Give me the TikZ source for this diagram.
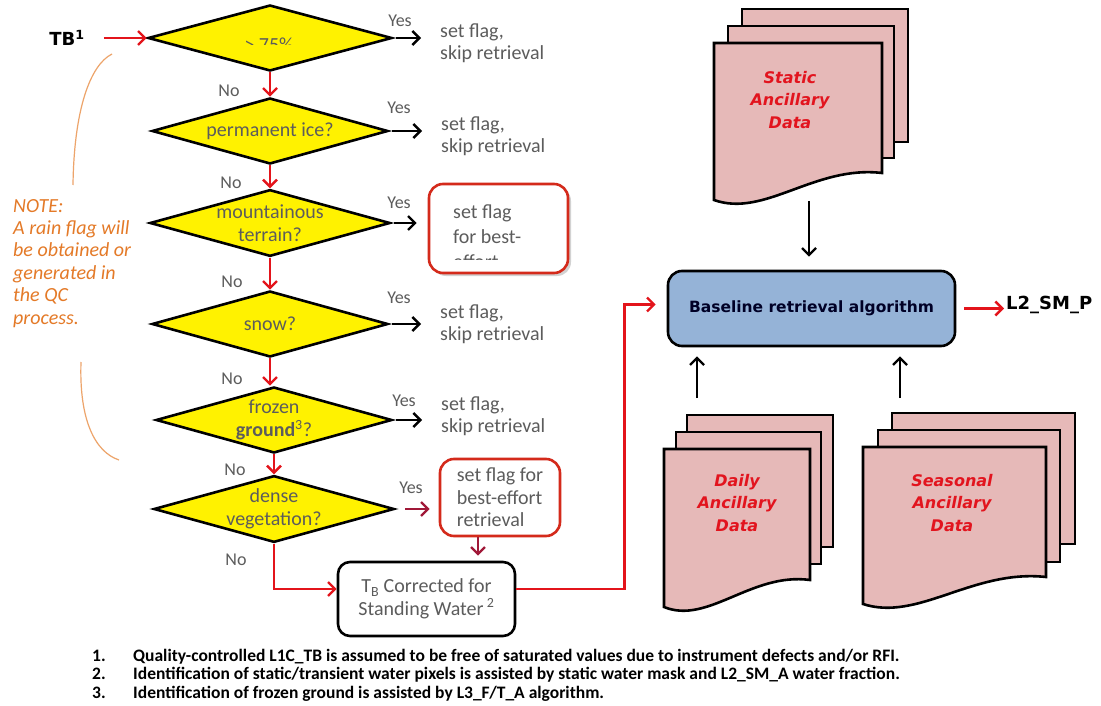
\documentclass[tikz,border=0pt]{standalone}
\usepackage{fontspec}
\setmainfont{Carlito}
\newfontfamily\headfont{DejaVu Sans}
\usetikzlibrary{shapes.geometric}
\usetikzlibrary{arrows.meta}
\usetikzlibrary{shadows}

\definecolor{flagred}{HTML}{E3141B}
\definecolor{darkflag}{HTML}{A01838}
\definecolor{boxred}{HTML}{D42A1B}
\definecolor{textgray}{HTML}{5C5C5C}
\definecolor{notecol}{HTML}{E47A28}
\definecolor{curvecol}{HTML}{EDA46A}
\definecolor{docfill}{HTML}{E6B9B8}
\definecolor{doctextcol}{HTML}{E2141E}
\definecolor{basefill}{HTML}{95B3D7}

\newcommand{\ancpage}[4]{% left, top, right, bottom at right edge
  \draw[docsheet] (#1,#2) -- (#3,#2) -- (#3,#4)
    .. controls ({#3-0.4*(#3-#1)},{#4-8}) and ({#1+0.3*(#3-#1)},{#4+45}) .. (#1,{#4+27}) -- cycle;}

\tikzset{
  decision/.style={diamond, draw=black, line width=2.6pt, fill=yellow, inner sep=0pt,
    aspect=3.6, minimum width=236pt, minimum height=66pt, align=center, text=textgray,
    font=\fontsize{20}{23}\selectfont},
  outcome/.style={anchor=west, inner sep=0pt, align=left, text=textgray,
    font=\fontsize{20}{21.5}\selectfont},
  answer/.style={inner sep=0pt, text=textgray, font=\fontsize{18}{20}\selectfont},
  flagbox/.style={draw=boxred, line width=2.6pt, rounded corners=14pt, fill=white},
  procbox/.style={draw=black, line width=2.6pt, rounded corners=12pt, fill=white, align=center,
    text=textgray, font=\fontsize{20}{22.5}\selectfont},
  termfont/.style={inner sep=2pt, font=\headfont\bfseries\fontsize{18}{20}\selectfont},
  redarrow/.style={draw=flagred, line width=2.4pt, -{Straight Barb[length=7pt,width=14pt]}},
  darkarrow/.style={draw=darkflag, line width=2.4pt, -{Straight Barb[length=7pt,width=14pt]}},
  blackarrow/.style={draw=black, line width=2.4pt, -{Straight Barb[length=7pt,width=14pt]}},
  yesarrow/.style={blackarrow, shorten <=3pt, shorten >=19pt},
  docsheet/.style={draw=black, line width=2.6pt, fill=docfill},
  doctext/.style={align=center, text=doctextcol, font=\headfont\bfseries\itshape\fontsize{16}{22.5}\selectfont},
  notecurve/.style={draw=curvecol, line width=1.2pt},
  notetext/.style={inner sep=0pt, align=left, text=notecol, font=\itshape\fontsize{20}{22.4}\selectfont}
}

\begin{document}
\begin{tikzpicture}[x=1pt, y=-1pt]
  \path[fill=white, use as bounding box] (0,0) rectangle (1101,706);

  % input
  \node[termfont] (tb) at (67,38) {TB\textsuperscript{1}};

  % decision chain
  \node[decision, minimum width=244pt] (d1) at (270,38) {};
  \node[decision] (d2) at (270,131) {permanent ice?};
  \node[decision] (d3) at (270,223) {mountainous\\terrain?};
  \node[decision] (d4) at (270,324) {snow?};
  \node[decision] (d5) at (274,420) {frozen\\\textbf{ground}\textsuperscript{3}?};
  \node[decision] (d6) at (274,509) {dense\\vegetation?};

  \begin{scope}
    \clip (200,20) rectangle (340,45);
    \node[answer, anchor=base, font=\fontsize{20}{23}\selectfont] (thr) at (269,52) {\textgreater{} 75\%};
  \end{scope}

  % outcomes
  \node[outcome] (o1) at (440,43) {set flag,\\skip retrieval};
  \node[outcome] (o2) at (441,136) {set flag,\\skip retrieval};
  \node[outcome] (o4) at (440,324) {set flag,\\skip retrieval};
  \node[outcome] (o5) at (441,416) {set flag,\\skip retrieval};

  \node[flagbox, drop shadow={shadow xshift=3pt, shadow yshift=-3pt, opacity=0.35},
    minimum width=139pt, minimum height=89pt] (f1) at (498.5,228.5) {};
  \begin{scope}
    \clip (f1.north west) rectangle ([yshift=15pt]f1.south east);
    \node[outcome, anchor=north west, font=\fontsize{20}{25}\selectfont] (f1text) at (453,205) {set flag\\for best-\\effort};
  \end{scope}

  \node[flagbox, align=left, text=textgray, font=\fontsize{20}{22.5}\selectfont,
    minimum width=120pt, minimum height=77pt] (f2) at (500,497.5) {set flag for\\best-effort\\retrieval};

  \node[procbox, minimum width=177pt, minimum height=74pt] (tbc) at (426.5,599)
    {T\textsubscript{B} Corrected for\\Standing Water\,\textsuperscript{2}};

  % labels
  \node[answer] (y1) at (400,21) {Yes};
  \node[answer] (y2) at (399,108) {Yes};
  \node[answer] (y3) at (399,203) {Yes};
  \node[answer] (y4) at (399,298) {Yes};
  \node[answer] (y5) at (404,401) {Yes};
  \node[answer] (y6) at (411,488) {Yes};
  \node[answer] (n1) at (229,91) {No};
  \node[answer] (n2) at (231,183) {No};
  \node[answer] (n3) at (232,282) {No};
  \node[answer] (n4) at (232,379) {No};
  \node[answer] (n5) at (235,470) {No};
  \node[answer] (n6) at (236,560) {No};

  % connectors of the chain
  \draw[redarrow, shorten <=17pt] (tb.east) -- (d1.west);
  \draw[redarrow] (d1.south) -- (d2.north);
  \draw[redarrow] (d2.south) -- (d3.north);
  \draw[redarrow] (d3.south) -- (d4.north);
  \draw[redarrow] (d4.south) -- (d4.south |- d5.north);
  \draw[redarrow] (d5.south) -- (d6.north);
  \draw[redarrow] (d6.south) |- ([yshift=10pt]tbc.west);

  \draw[yesarrow] (d1.east) -- (d1.east -| o1.west);
  \draw[yesarrow] (d2.east) -- (d2.east -| o2.west);
  \draw[blackarrow, shorten <=3pt, shorten >=11pt] (d3.east) -- (d3.east -| f1.west);
  \draw[yesarrow] (d4.east) -- (d4.east -| o4.west);
  \draw[yesarrow] (d5.east) -- (d5.east -| o5.west);
  \draw[darkarrow, shorten <=10pt, shorten >=9pt] (d6.east) -- (d6.east -| f2.west);
  \draw[darkarrow, shorten >=5pt] ([xshift=-22pt]f2.south) -- ([xshift=-22pt]f2.south |- tbc.north);

  % note
  \draw[notecurve] (112,54) .. controls (90,65) and (74,110) .. (73,185);
  \draw[notecurve] (81,362) .. controls (79,420) and (95,452) .. (119,460);
  \node[notetext, anchor=north west] (note) at (13,199)
    {NOTE:\\A rain flag will\\be obtained or\\generated in\\the QC\\process.};

  % ancillary data
  \draw[docsheet] (742,9) rectangle (908,142);
  \draw[docsheet] (728,26) rectangle (894,158);
  \ancpage{714}{43}{882}{173}
  \node[doctext] (staticdoc) at (790,100) {Static\\Ancillary\\Data};

  \draw[docsheet] (687,415) rectangle (833,547);
  \draw[docsheet] (676,432) rectangle (821,564);
  \ancpage{664}{449}{810}{580}
  \node[doctext] (dailydoc) at (737,503) {Daily\\Ancillary\\Data};

  \draw[docsheet] (892,413) rectangle (1075,544);
  \draw[docsheet] (878,430) rectangle (1060,562);
  \ancpage{863}{447}{1046}{577}
  \node[doctext] (seasonaldoc) at (952,503) {Seasonal\\Ancillary\\Data};

  % retrieval
  \node[draw=black, line width=2.6pt, rounded corners=14pt, fill=basefill,
    minimum width=287pt, minimum height=75pt, text=black!85!blue,
    font=\headfont\bfseries\fontsize{15.5}{18}\selectfont] (base) at (811.5,308.5)
    {Baseline retrieval algorithm};
  \node[termfont, anchor=west] (l2) at (1004,305) {L2\_SM\_P};

  \coordinate (statictip) at (809,201);
  \coordinate (dailytop) at (697,398);
  \coordinate (seasonaltop) at (900,398);
  \draw[blackarrow, shorten >=13pt] (statictip) -- (statictip |- base.north);
  \draw[blackarrow, shorten >=9pt] (dailytop) -- (dailytop |- base.south);
  \draw[blackarrow, shorten >=9pt] (seasonaltop) -- (seasonaltop |- base.south);

  \draw[redarrow, shorten >=11pt] ([yshift=10pt]tbc.east) -- ++(108,0) |- ([yshift=4pt]base.west);
  \draw[redarrow, shorten <=8pt] (base.east) -- (base.east -| l2.west);

  % footnotes
  \node[inner sep=0pt, anchor=north west, font=\bfseries\fontsize{17.5}{18.5}\selectfont] (notes) at (92,648)
    {\begin{tabular}{@{}p{41pt}@{}l@{}}
      1. & Quality-controlled L1C\_TB is assumed to be free of saturated values due to instrument defects and/or RFI.\\
      2. & Identification of static/transient water pixels is assisted by static water mask and L2\_SM\_A water fraction.\\
      3. & Identification of frozen ground is assisted by L3\_F/T\_A algorithm.
    \end{tabular}};
\end{tikzpicture}
\end{document}
